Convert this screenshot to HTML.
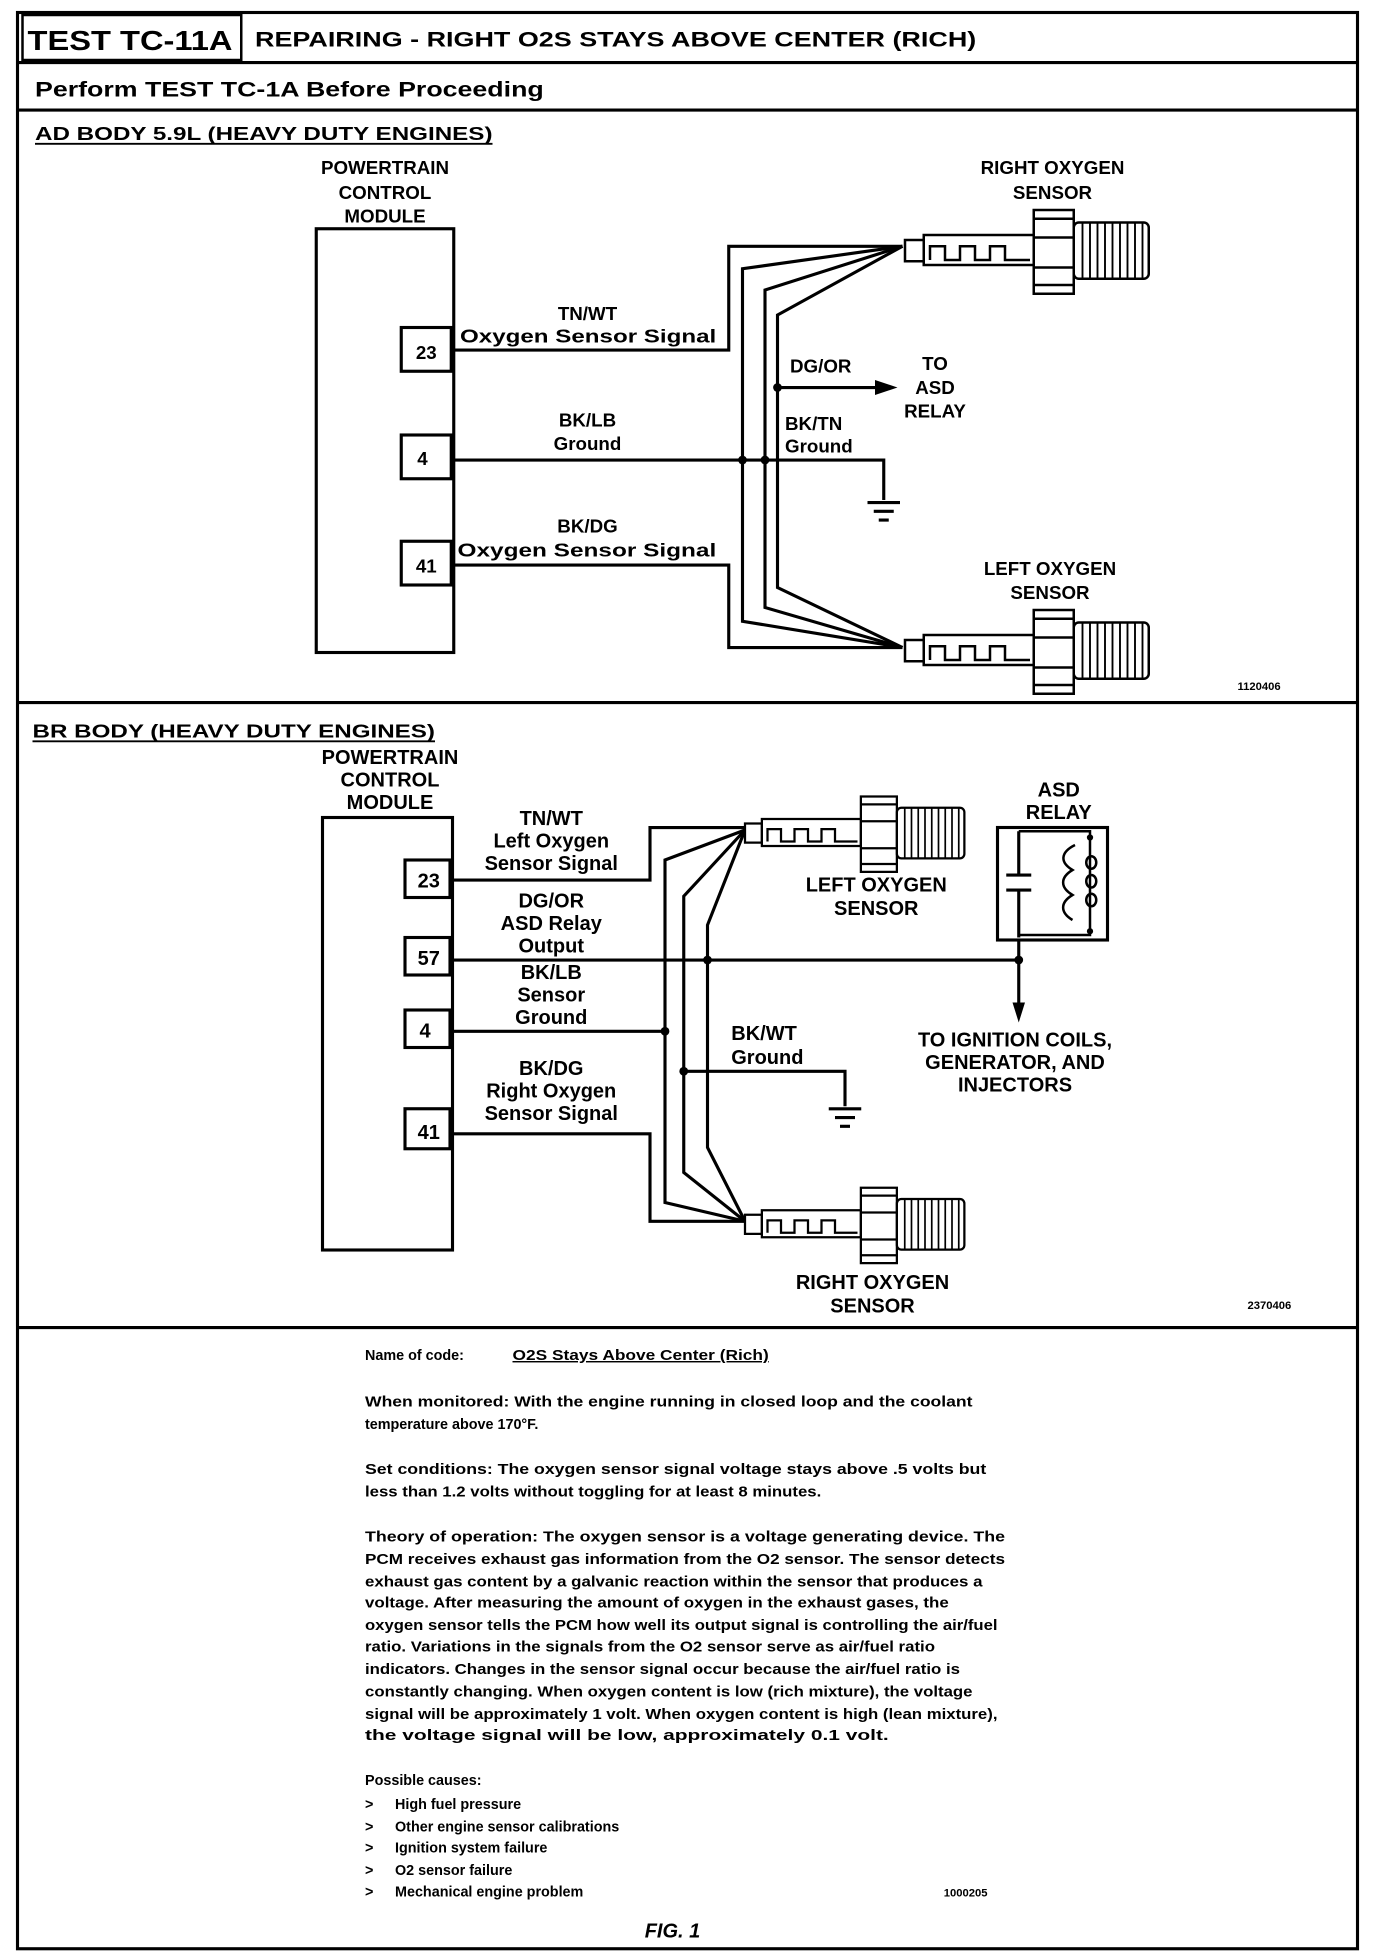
<!DOCTYPE html>
<html><head><meta charset="utf-8"><style>
html,body{margin:0;padding:0;background:#fff}
svg{display:block}
text{font-family:"Liberation Sans",sans-serif;fill:#000}
.b{font-weight:bold}
.d{font-family:"Liberation Sans",sans-serif;font-weight:bold;font-size:15px}
.m{font-family:"Liberation Mono",monospace;font-weight:bold;font-size:16px}
.t{font-size:11.5px;font-weight:bold}
</style></head><body>
<svg width="1376" height="1956" viewBox="0 0 1100.8 1564.8" xmlns="http://www.w3.org/2000/svg">
<defs>
<g id="sens">
  <rect x="0" y="-8" width="15" height="17" fill="#fff" stroke="#000" stroke-width="2"/>
  <rect x="15" y="-12" width="88" height="24" fill="#fff" stroke="#000" stroke-width="2"/>
  <path d="M20 8 V-3 H32 V8 H44 V-3 H56 V8 H68 V-3 H80 V8 H100" fill="none" stroke="#000" stroke-width="2"/>
  <rect x="103" y="-32" width="32" height="67" fill="#fff" stroke="#000" stroke-width="2"/>
  <path d="M103 -25 H135 M103 -10 H135 M103 14 H135 M103 28 H135" stroke="#000" stroke-width="2"/>
  <rect x="135" y="-22" width="60" height="45" rx="4" fill="#fff" stroke="#000" stroke-width="2"/>
  <path d="M142 -22V23 M148 -22V23 M154 -22V23 M160 -22V23 M166 -22V23 M172 -22V23 M178 -22V23 M184 -22V23 M190 -22V23" stroke="#000" stroke-width="1.5"/>
</g>
<g id="gnd"><path d="M-13 0H13 M-8 7H8 M-4 14H4" stroke="#000" stroke-width="2.5"/></g>
</defs>
<g fill="none" stroke="#000">
<rect x="14" y="10" width="1072" height="1549" stroke-width="2.5"/>
<rect x="18" y="12" width="175" height="36" stroke-width="2"/>
<path d="M14 50H1086 M14 88H1086 M14 562H1086 M14 1062H1086" stroke-width="2.5"/>
</g>
<text x="22" y="40" class="b" font-size="22" textLength="164" lengthAdjust="spacingAndGlyphs">TEST TC-11A</text>
<text x="204" y="37" class="b" font-size="17" textLength="577" lengthAdjust="spacingAndGlyphs">REPAIRING - RIGHT O2S STAYS ABOVE CENTER (RICH)</text>
<text x="28" y="77" class="b" font-size="17" textLength="407" lengthAdjust="spacingAndGlyphs">Perform TEST TC-1A Before Proceeding</text>
<text x="28" y="112" class="b" font-size="15" textLength="366" lengthAdjust="spacingAndGlyphs">AD BODY 5.9L (HEAVY DUTY ENGINES)</text>
<path d="M28 115H394" stroke="#000" stroke-width="1.5"/>

<!-- AD diagram -->
<g text-anchor="middle" class="d">
<text x="308" y="139">POWERTRAIN</text><text x="308" y="159">CONTROL</text><text x="308" y="178">MODULE</text>
<text x="842" y="139">RIGHT  OXYGEN</text><text x="842" y="159">SENSOR</text>
<text x="840" y="460">LEFT  OXYGEN</text><text x="840" y="479">SENSOR</text>
<text x="470" y="256">TN/WT</text><text x="470" y="341">BK/LB</text><text x="470" y="360">Ground</text>
<text x="470" y="426">BK/DG</text>
<text x="748" y="296">TO</text><text x="748" y="315">ASD</text><text x="748" y="334">RELAY</text>
<text x="341" y="287">23</text><text x="338" y="372">4</text><text x="341" y="458">41</text>
</g>
<g class="d"><text x="368" y="274" textLength="205" lengthAdjust="spacingAndGlyphs">Oxygen  Sensor  Signal</text>
<text x="366" y="445" textLength="207" lengthAdjust="spacingAndGlyphs">Oxygen  Sensor  Signal</text>
<text x="632" y="298">DG/OR</text><text x="628" y="344">BK/TN</text><text x="628" y="362">Ground</text></g>
<g fill="none" stroke="#000" stroke-width="2.5">
<rect x="253" y="183" width="110" height="339"/>
<rect x="321" y="262" width="40" height="35"/><rect x="321" y="348" width="40" height="35"/><rect x="321" y="433" width="40" height="35"/>
<path d="M361 280H583V197H722"/>
<path d="M361 368H707V400"/>
<path d="M361 452H583V518H722"/>
<path d="M722 197L594 215V497L722 518"/>
<path d="M722 197L612 232V486L722 518"/>
<path d="M722 197L622 252V470L722 518"/>
<path d="M622 310H705"/>
</g>
<path d="M718 310L700 304V316Z" fill="#000"/>
<circle cx="622" cy="310" r="3.5"/><circle cx="594" cy="368" r="3.5"/><circle cx="612" cy="368" r="3.5"/>
<use href="#gnd" x="707" y="402"/>
<use href="#sens" x="724" y="200"/>
<use href="#sens" x="724" y="520"/>
<text x="990" y="552" class="b" font-size="9">1120406</text>

<!-- BR diagram -->
<text x="26" y="590" class="b" font-size="15" textLength="322" lengthAdjust="spacingAndGlyphs">BR BODY (HEAVY DUTY ENGINES)</text>
<path d="M26 593H348" stroke="#000" stroke-width="1.5"/>
<g text-anchor="middle" class="m">
<text x="312" y="611">POWERTRAIN</text><text x="312" y="629">CONTROL</text><text x="312" y="647">MODULE</text>
<text x="847" y="637">ASD</text><text x="847" y="655">RELAY</text>
<text x="701" y="713">LEFT OXYGEN</text><text x="701" y="732">SENSOR</text>
<text x="698" y="1031">RIGHT OXYGEN</text><text x="698" y="1050">SENSOR</text>
<text x="441" y="660">TN/WT</text><text x="441" y="678">Left Oxygen</text><text x="441" y="696">Sensor Signal</text>
<text x="441" y="726">DG/OR</text><text x="441" y="744">ASD Relay</text><text x="441" y="762">Output</text>
<text x="441" y="783">BK/LB</text><text x="441" y="801">Sensor</text><text x="441" y="819">Ground</text>
<text x="441" y="860">BK/DG</text><text x="441" y="878">Right Oxygen</text><text x="441" y="896">Sensor Signal</text>
<text x="812" y="837">TO IGNITION COILS,</text><text x="812" y="855">GENERATOR, AND</text><text x="812" y="873">INJECTORS</text>
<text x="343" y="710">23</text><text x="343" y="772">57</text><text x="340" y="830">4</text><text x="343" y="911">41</text>
</g>
<g class="m"><text x="585" y="832">BK/WT</text><text x="585" y="851">Ground</text></g>
<g fill="none" stroke="#000" stroke-width="2.5">
<rect x="258" y="654" width="104" height="346"/>
<rect x="324" y="688" width="36" height="30"/><rect x="324" y="750" width="36" height="30"/><rect x="324" y="808" width="36" height="30"/><rect x="324" y="887" width="36" height="32"/>
<path d="M362 704H520V662H596"/>
<path d="M362 768H815"/>
<path d="M362 825H532"/>
<path d="M362 907H520V977H596"/>
<path d="M596 664L532 688V962L596 977"/>
<path d="M596 664L547 717V938L596 977"/>
<path d="M596 664L566 740V918L596 977"/>
<path d="M547 857H676V885"/>
<rect x="798" y="662" width="88" height="90"/>
<path d="M815 665V700 M815 712V750 M815 752V805"/>
<path d="M805 700H825 M805 712H825"/>
<path d="M815 665H872V748H815" stroke-width="2"/>
<path d="M860 676 C848 682,848 690,858 696 C848 702,848 710,858 716 C848 722,848 730,858 736" stroke-width="2"/>
</g>
<g fill="none" stroke="#000" stroke-width="2"><ellipse cx="873" cy="690" rx="4" ry="5"/><ellipse cx="873" cy="705" rx="4" ry="5"/><ellipse cx="873" cy="720" rx="4" ry="5"/></g>
<path d="M815 818L810 802H820Z" fill="#000"/>
<circle cx="566" cy="768" r="3.5"/><circle cx="815" cy="768" r="3.5"/><circle cx="532" cy="825" r="3.5"/><circle cx="547" cy="857" r="3.5"/>
<circle cx="872" cy="670" r="2.5"/><circle cx="872" cy="745" r="2.5"/>
<use href="#gnd" x="676" y="887"/>
<g transform="translate(596,666) scale(0.9)"><use href="#sens"/></g>
<g transform="translate(596,979) scale(0.9)"><use href="#sens"/></g>
<text x="998" y="1047" class="b" font-size="9">2370406</text>

<!-- text -->
<g class="t">
<text x="292" y="1088">Name of code:</text>
<text x="410" y="1088" text-decoration="underline" textLength="205" lengthAdjust="spacingAndGlyphs">O2S Stays Above Center (Rich)</text>
<text x="292" y="1125" textLength="486" lengthAdjust="spacingAndGlyphs">When monitored:   With the engine running in closed loop and the coolant</text>
<text x="292" y="1143">temperature above 170°F.</text>
<text x="292" y="1179" textLength="497" lengthAdjust="spacingAndGlyphs">Set conditions:   The oxygen sensor signal voltage stays above .5 volts but</text>
<text x="292" y="1197" textLength="365" lengthAdjust="spacingAndGlyphs">less than 1.2 volts without toggling for at least 8 minutes.</text>
<text x="292" y="1233" textLength="512" lengthAdjust="spacingAndGlyphs">Theory of operation:   The oxygen sensor is a voltage generating device. The</text>
<text x="292" y="1251" textLength="512" lengthAdjust="spacingAndGlyphs">PCM receives exhaust gas information from the O2 sensor. The sensor detects</text>
<text x="292" y="1269" textLength="494" lengthAdjust="spacingAndGlyphs">exhaust gas content by a galvanic reaction within the sensor that produces a</text>
<text x="292" y="1286" textLength="467" lengthAdjust="spacingAndGlyphs">voltage. After measuring the amount of oxygen in the exhaust gases, the</text>
<text x="292" y="1304" textLength="506" lengthAdjust="spacingAndGlyphs">oxygen sensor tells the PCM how well its output signal is controlling the air/fuel</text>
<text x="292" y="1321" textLength="456" lengthAdjust="spacingAndGlyphs">ratio. Variations in the signals from the O2 sensor serve as air/fuel ratio</text>
<text x="292" y="1339" textLength="476" lengthAdjust="spacingAndGlyphs">indicators. Changes in the sensor signal occur because the air/fuel ratio is</text>
<text x="292" y="1357" textLength="486" lengthAdjust="spacingAndGlyphs">constantly changing. When oxygen content is low (rich mixture), the voltage</text>
<text x="292" y="1375" textLength="506" lengthAdjust="spacingAndGlyphs">signal will be approximately 1 volt. When oxygen content is high (lean mixture),</text>
<text x="292" y="1392" textLength="419" lengthAdjust="spacingAndGlyphs">the voltage signal will be low, approximately 0.1 volt.</text>
<text x="292" y="1428">Possible causes:</text>
<text x="292" y="1447">&gt;</text><text x="316" y="1447">High fuel pressure</text>
<text x="292" y="1465">&gt;</text><text x="316" y="1465">Other engine sensor calibrations</text>
<text x="292" y="1482">&gt;</text><text x="316" y="1482">Ignition system failure</text>
<text x="292" y="1500">&gt;</text><text x="316" y="1500">O2 sensor failure</text>
<text x="292" y="1517">&gt;</text><text x="316" y="1517">Mechanical engine problem</text>
<text x="755" y="1517" font-size="9">1000205</text>
</g>
<text x="538" y="1550" text-anchor="middle" class="b" font-size="16" font-style="italic">FIG. 1</text>
</svg>
</body></html>
